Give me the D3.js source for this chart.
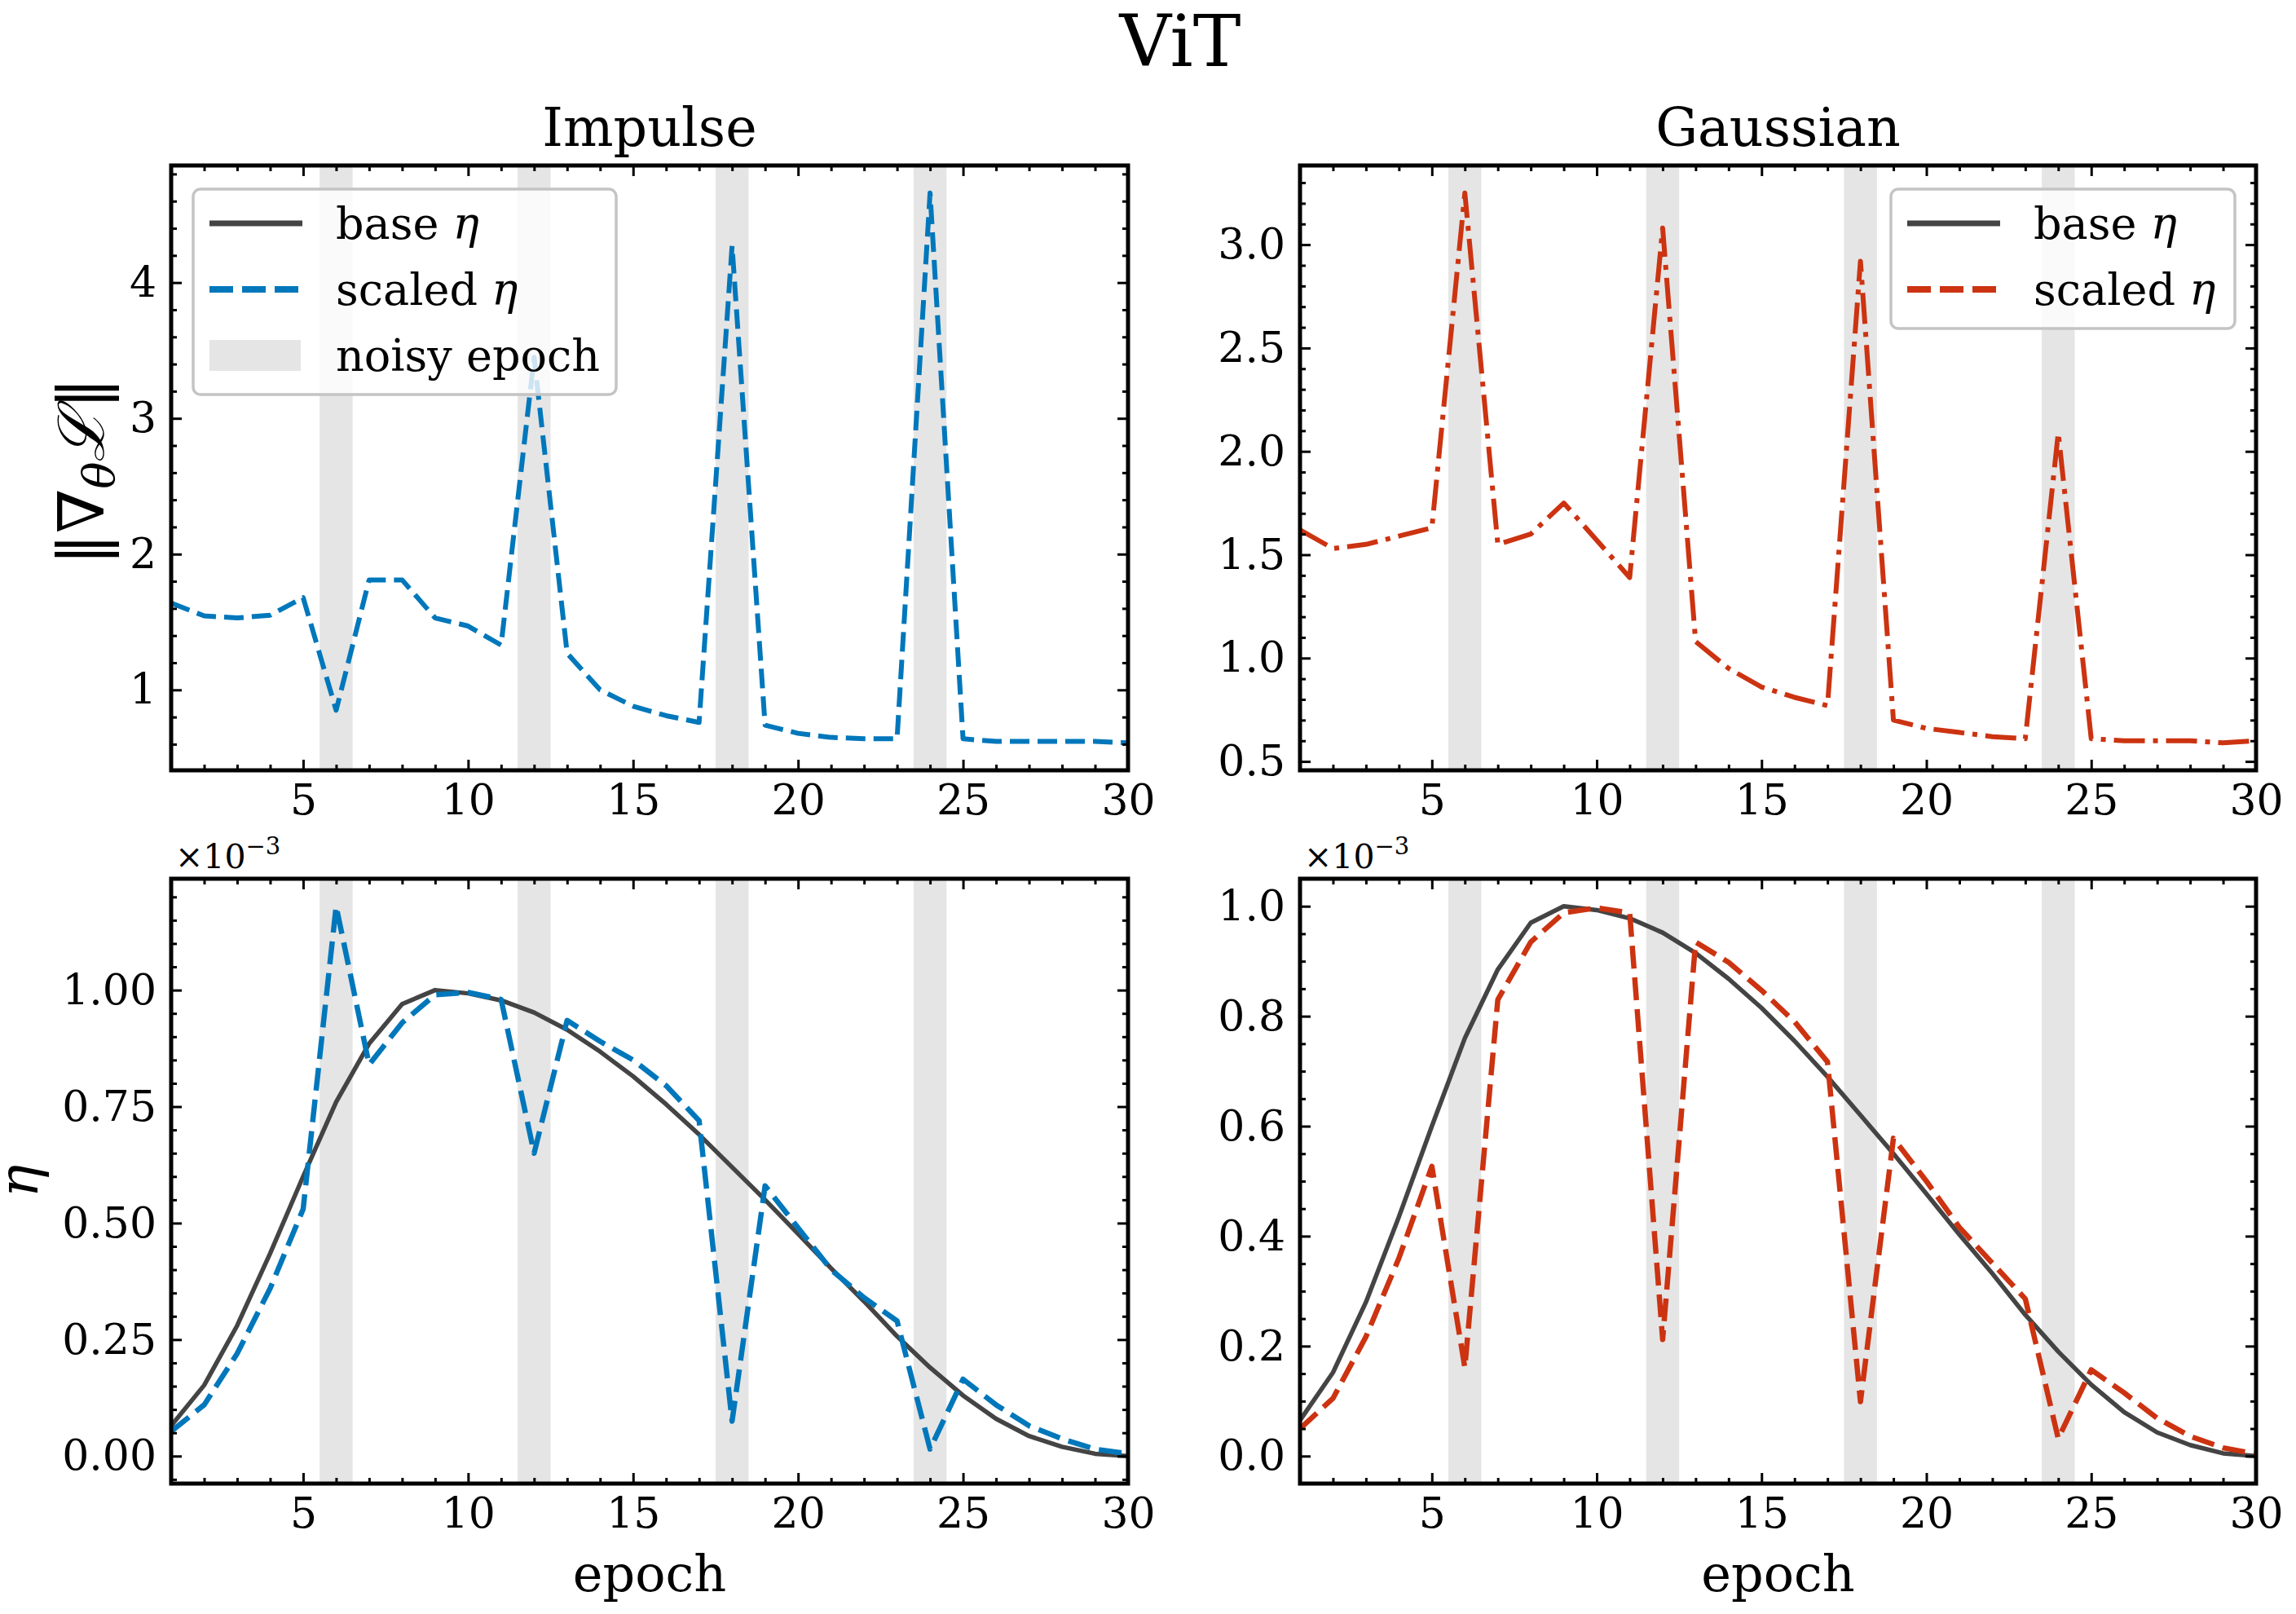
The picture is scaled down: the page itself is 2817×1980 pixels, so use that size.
<!DOCTYPE html>
<html>
<head>
<meta charset="utf-8">
<script src="https://cdn.jsdelivr.net/npm/d3@7"></script>
<style>
  body { margin: 0; background: #fff; }
  svg { display: block; font-family: "DejaVu Serif", serif; }
</style>
</head>
<body>
<svg id="chart" width="2817" height="1980"></svg>
<script>
// epochs on the x axis and the noisy ones (shaded)
const epochs = [1,2,3,4,5,6,7,8,9,10,11,12,13,14,15,16,17,18,19,20,21,22,23,24,25,26,27,28,29,30]
const noisyEpochs = [6, 12, 18, 24]

// gradient norm, impulse noise
const impulseGrad = [1.64,1.545,1.53,1.55,1.68,0.85,1.81,1.81,1.53,1.47,1.33,3.45,1.27,1.0,0.88,0.81,0.76,4.27,0.74,0.68,0.65,0.64,0.64,4.66,0.64,0.62,0.62,0.62,0.62,0.61]
// gradient norm, gaussian noise
const gaussianGrad = [1.62,1.53,1.55,1.59,1.63,3.25,1.55,1.60,1.75,1.57,1.39,3.08,1.08,0.95,0.86,0.81,0.77,2.92,0.70,0.66,0.64,0.62,0.61,2.09,0.61,0.60,0.60,0.60,0.59,0.60]

// learning rate (x 1e-3)
const baseEta = [0.065,0.152,0.28,0.435,0.60,0.76,0.885,0.97,1.0,0.993,0.978,0.952,0.915,0.868,0.815,0.755,0.69,0.62,0.55,0.477,0.403,0.332,0.257,0.19,0.13,0.08,0.043,0.02,0.005,0.0]
const impulseEta = [0.053,0.11,0.22,0.36,0.53,1.18,0.84,0.93,0.99,0.995,0.98,0.65,0.935,0.89,0.85,0.795,0.72,0.075,0.58,0.49,0.40,0.34,0.29,0.015,0.165,0.11,0.065,0.037,0.015,0.005]
const gaussianEta = [0.05,0.105,0.217,0.36,0.527,0.161,0.83,0.935,0.988,0.997,0.988,0.212,0.935,0.898,0.847,0.79,0.717,0.099,0.578,0.50,0.416,0.351,0.286,0.032,0.157,0.115,0.069,0.036,0.015,0.004]

// tick values
const xMajor = [5, 10, 15, 20, 25, 30]
const gradImpulseTicks = [1, 2, 3, 4]
const gradGaussianTicks = [0.5, 1.0, 1.5, 2.0, 2.5, 3.0]
const etaImpulseTicks = [0, 0.25, 0.5, 0.75, 1.0]
const etaGaussianTicks = [0, 0.2, 0.4, 0.6, 0.8, 1.0]

const BLUE = "#0077bb", RED = "#cc3311", GRAY = "#444444", BAND = "#e5e5e5"

const svg = d3.select("#chart")

svg.append("text").attr("x", 1448).attr("y", 81).attr("text-anchor", "middle")
  .attr("font-size", 88).text("ViT")

const cols = [[210, 1384], [1595, 2768]]
const rows = [[203, 945], [1078, 1820]]

const padded = (vals) => {
  let [lo, hi] = d3.extent(vals)
  let m = (hi - lo) * 0.05
  return [lo - m, hi + m]
}

const range = (a, b, s) => d3.range(Math.round(a / s), Math.round(b / s) + 1).map(d => +(d * s).toFixed(6))

let clipId = 0

const drawPanel = (o) => {
  let [L, R] = cols[o.col], [T, B] = rows[o.row]
  let x = d3.scaleLinear().domain([1, 30]).range([L, R])
  let y = d3.scaleLinear().domain(o.domain).range([B, T])
  let g = svg.append("g")

  let cid = "clip" + (clipId++)
  g.append("clipPath").attr("id", cid).append("rect")
    .attr("x", L).attr("y", T).attr("width", R - L).attr("height", B - T)

  let plot = g.append("g").attr("clip-path", `url(#${cid})`)
  //noisy bands
  plot.selectAll("rect.band").data(noisyEpochs).enter().append("rect")
    .attr("class", "band")
    .attr("x", d => x(d - 0.5)).attr("width", d => x(d + 0.5) - x(d - 0.5))
    .attr("y", T).attr("height", B - T).attr("fill", BAND)

  let line = d3.line().x((d, i) => x(epochs[i])).y(d => y(d))
  o.series.forEach(s => {
    plot.append("path").datum(s.values).attr("d", line)
      .attr("fill", "none").attr("stroke", s.color).attr("stroke-width", s.width)
      .attr("stroke-dasharray", s.dash || null)
      .attr("stroke-linejoin", "round")
  })

  //axes, ticks inward on all sides
  const style = (sel) => {
    sel.select(".domain").remove()
    sel.selectAll("line").attr("stroke", "#000").attr("stroke-width", 3)
    sel.selectAll("text").attr("font-family", "DejaVu Serif").attr("font-size", 52).attr("fill", "#000")
    sel.attr("font-family", null)
  }
  let xMinor = epochs.filter(d => !xMajor.includes(d))
  let yMinor = range(Math.ceil(o.domain[0] / o.minor) * o.minor, o.domain[1], o.minor)
    .filter(v => v >= o.domain[0] && v <= o.domain[1])
    .filter(v => !o.ticks.some(t => Math.abs(t - v) < 1e-6))

  g.append("g").attr("transform", `translate(0,${B})`)
    .call(d3.axisBottom(x).tickValues(xMajor).tickSize(-13).tickPadding(17).tickFormat(d3.format("d"))).call(style)
  g.append("g").attr("transform", `translate(0,${B})`)
    .call(d3.axisBottom(x).tickValues(xMinor).tickSize(-7).tickFormat("")).call(style)
  g.append("g").attr("transform", `translate(0,${T})`)
    .call(d3.axisTop(x).tickValues(xMajor).tickSize(-13).tickFormat("")).call(style)
  g.append("g").attr("transform", `translate(0,${T})`)
    .call(d3.axisTop(x).tickValues(xMinor).tickSize(-7).tickFormat("")).call(style)

  g.append("g").attr("transform", `translate(${L},0)`)
    .call(d3.axisLeft(y).tickValues(o.ticks).tickSize(-13).tickPadding(18).tickFormat(d3.format(o.fmt))).call(style)
  g.append("g").attr("transform", `translate(${L},0)`)
    .call(d3.axisLeft(y).tickValues(yMinor).tickSize(-7).tickFormat("")).call(style)
  g.append("g").attr("transform", `translate(${R},0)`)
    .call(d3.axisRight(y).tickValues(o.ticks).tickSize(-13).tickFormat("")).call(style)
  g.append("g").attr("transform", `translate(${R},0)`)
    .call(d3.axisRight(y).tickValues(yMinor).tickSize(-7).tickFormat("")).call(style)

  //spines
  g.append("rect").attr("x", L).attr("y", T).attr("width", R - L).attr("height", B - T)
    .attr("fill", "none").attr("stroke", "#000").attr("stroke-width", 5)

  if (o.title) {
    g.append("text").attr("x", (L + R) / 2).attr("y", T - 24).attr("text-anchor", "middle")
      .attr("font-size", 65).text(o.title)
  }
  if (o.xlabel) {
    g.append("text").attr("x", (L + R) / 2).attr("y", B + 132).attr("text-anchor", "middle")
      .attr("font-size", 62).text(o.xlabel)
  }
  if (o.offset) {
    let t = g.append("text").attr("x", L + 5).attr("y", T - 13).attr("font-size", 41)
    t.append("tspan").text("×10")
    t.append("tspan").attr("dy", -17).attr("font-size", 29).text("−3")
  }
  if (o.legend) drawLegend(g, o.legend, L, R, T)
  return g
}

const drawLegend = (g, lg, L, R, T) => {
  let left = lg.align == "left" ? L + 27 : R - 26 - lg.width
  let top = T + 29
  let n = lg.items.length
  let lgG = g.append("g")
  lgG.append("rect").attr("x", left).attr("y", top).attr("width", lg.width).attr("height", 42 + (n - 1) * 81 + 48)
    .attr("rx", 9).attr("fill", "#fff").attr("fill-opacity", 0.8)
    .attr("stroke", "#c4c4c4").attr("stroke-width", 3.5)
  lg.items.forEach((it, i) => {
    let cy = top + 42 + i * 81
    if (it.patch) {
      lgG.append("rect").attr("x", left + 20).attr("y", cy - 19).attr("width", 112).attr("height", 38).attr("fill", BAND)
    } else {
      lgG.append("line").attr("x1", left + 20).attr("x2", left + 134).attr("y1", cy).attr("y2", cy)
        .attr("stroke", it.color).attr("stroke-width", it.width).attr("stroke-dasharray", it.dash || null)
    }
    let t = lgG.append("text").attr("x", left + 175).attr("y", cy).attr("dy", "0.35em").attr("font-size", 54)
    t.append("tspan").text(it.label)
    if (it.eta) t.append("tspan").attr("font-style", "italic").text(" η")
  })
}

const legendItems = (color, withPatch) => {
  let items = [
    { label: "base", eta: true, color: GRAY, width: 7 },
    { label: "scaled", eta: true, color: color, width: 8, dash: "29,11" }
  ]
  if (withPatch) items.push({ label: "noisy epoch", patch: true })
  return items
}

drawPanel({
  col: 0, row: 0, title: "Impulse",
  domain: padded(impulseGrad), ticks: gradImpulseTicks, minor: 0.2, fmt: "d",
  series: [{ values: impulseGrad, color: BLUE, width: 6, dash: "24,10" }],
  legend: { align: "left", width: 519, items: legendItems(BLUE, true) }
})
drawPanel({
  col: 1, row: 0, title: "Gaussian",
  domain: padded(gaussianGrad), ticks: gradGaussianTicks, minor: 0.1, fmt: ".1f",
  series: [{ values: gaussianGrad, color: RED, width: 6, dash: "38,10,6,10" }],
  legend: { align: "right", width: 422, items: legendItems(RED, false) }
})
drawPanel({
  col: 0, row: 1, xlabel: "epoch", offset: true,
  domain: padded(impulseEta.concat(baseEta)), ticks: etaImpulseTicks, minor: 0.05, fmt: ".2f",
  series: [
    { values: baseEta, color: GRAY, width: 5.5 },
    { values: impulseEta, color: BLUE, width: 6.5, dash: "28,11" }
  ]
})
drawPanel({
  col: 1, row: 1, xlabel: "epoch", offset: true,
  domain: padded(gaussianEta.concat(baseEta)), ticks: etaGaussianTicks, minor: 0.05, fmt: ".1f",
  series: [
    { values: baseEta, color: GRAY, width: 5.5 },
    { values: gaussianEta, color: RED, width: 6.5, dash: "28,11" }
  ]
})

//y labels
let yl = svg.append("text").attr("transform", "translate(127,578) rotate(-90)")
  .attr("text-anchor", "middle").attr("font-size", 78)
yl.append("tspan").text("‖∇")
yl.append("tspan").attr("font-style", "italic").attr("font-size", 55).attr("dy", 13).text("θ")
yl.append("tspan").attr("dy", -13).attr("font-style", "italic").text("ℒ")
yl.append("tspan").text("‖")

svg.append("text").attr("transform", "translate(46,1449) rotate(-90)")
  .attr("text-anchor", "middle").attr("font-size", 68).attr("font-style", "italic").text("η")
</script>
</body>
</html>
